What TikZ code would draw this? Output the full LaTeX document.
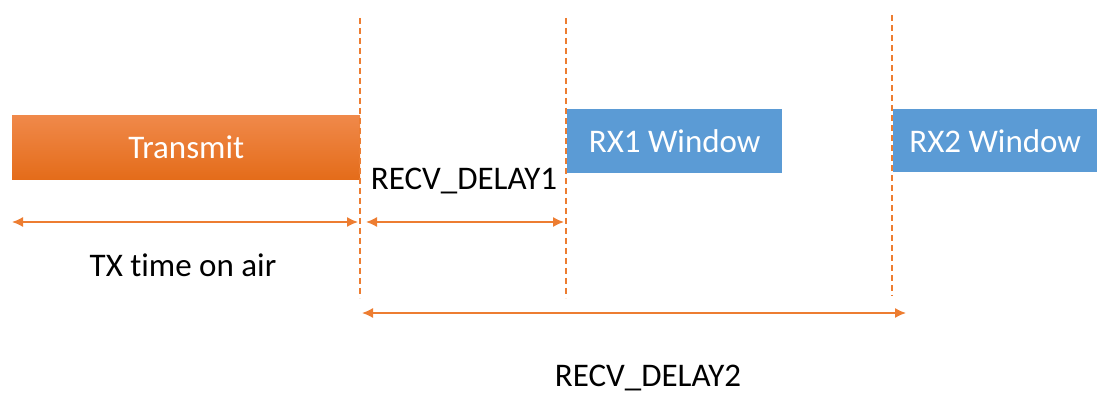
\documentclass[tikz,border=0pt]{standalone}
\usepackage{fontspec}
\setmainfont{Carlito}[Ligatures={NoCommon}]
\usetikzlibrary{arrows.meta}
\definecolor{orng}{HTML}{ED7D31}
\definecolor{orngtop}{HTML}{F0894A}
\definecolor{orngbot}{HTML}{E46C1A}
\definecolor{blu}{HTML}{5B9BD5}
\tikzset{
  txbox/.style={top color=orngtop, bottom color=orngbot, draw=none, inner sep=0pt, anchor=north west, text=white, font=\fontsize{33}{40}\selectfont},
  rxbox/.style={fill=blu, draw=none, inner sep=0pt, anchor=north west, text=white, font=\fontsize{33}{40}\selectfont},
  lbl/.style={text=black, inner sep=0pt, font=\fontsize{33}{40}\selectfont},
  vline/.style={draw=orng, line width=1.3pt, dash pattern=on 6pt off 4pt},
  span/.style={draw=orng, line width=1.5pt, {Latex[length=11pt,width=10pt]}-{Latex[length=11pt,width=10pt]}},
}
\begin{document}
\begin{tikzpicture}[x=1pt,y=-1pt]
\useasboundingbox (0,0) rectangle (1097,395);
% boxes
\node[txbox, minimum width=348pt, minimum height=64pt] (tx) at (12,115) {Transmit};
\node[rxbox, minimum width=215pt, minimum height=64pt] (rx1) at (567,109) {RX1 Window};
\node[rxbox, minimum width=204pt, minimum height=63pt] (rx2) at (893,109) {RX2 Window};
% dashed verticals
\coordinate (a1) at (360,18); \coordinate (b1) at (360,298);
\coordinate (a2) at (566,18); \coordinate (b2) at (566,298);
\coordinate (a3) at (892,15); \coordinate (b3) at (892,296);
\draw[vline] (a1) -- (b1);
\draw[vline] (a2) -- (b2);
\draw[vline] (a3) -- (b3);
% spans
\coordinate (s1l) at (12,222); \coordinate (s1r) at (358,222);
\coordinate (s2l) at (366,222); \coordinate (s2r) at (564,222);
\coordinate (s3l) at (362,313); \coordinate (s3r) at (906,313);
\draw[span] (s1l) -- (s1r);
\draw[span] (s2l) -- (s2r);
\draw[span] (s3l) -- (s3r);
% labels
\node[lbl] (l1) at (464,181) {RECV\_DELAY1};
\node[lbl] (l2) at (183,265) {TX time on air};
\node[lbl] (l3) at (648,378) {RECV\_DELAY2};
\end{tikzpicture}
\end{document}
